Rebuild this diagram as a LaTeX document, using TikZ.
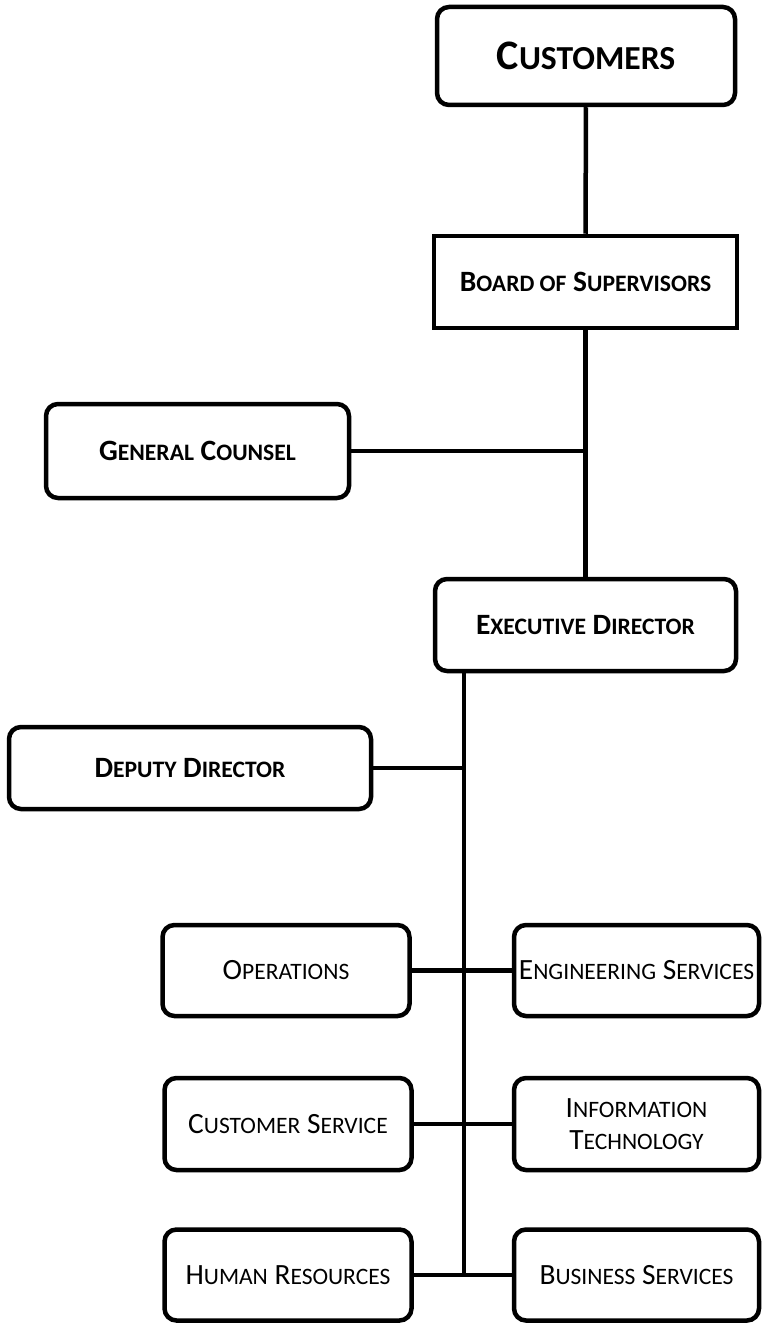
\documentclass[tikz,border=0pt]{standalone}
\usepackage{fontspec}
\setmainfont{Carlito}
\usetikzlibrary{calc}
\makeatletter
\newcommand{\capw}[2]{#1{\fontsize{\fpeval{0.8*\f@size}}{0}\selectfont #2}}
\makeatother

\begin{document}
\begin{tikzpicture}[x=1pt, y=-1pt, line width=4.5pt,
	box/.style = {draw, rounded corners=12pt, inner sep=0pt, align=center},
	head/.style = {box, font=\fontsize{29.5}{32}\selectfont\bfseries},
	unit/.style = {box, font=\fontsize{29.4}{32}\selectfont, minimum width=247pt, minimum height=91pt}]
	\useasboundingbox (0,0) rectangle (762,1324);
	% top of the chart
	\node[box, font=\fontsize{42}{46}\selectfont\bfseries, minimum width=298pt, minimum height=98pt] (cust) at (586,56) {\capw{C}{USTOMERS}};
	\node[head, sharp corners, minimum width=303pt, minimum height=92pt] (board) at (585.5,282) {\capw{B}{OARD OF} \capw{S}{UPERVISORS}};
	\node[head, minimum width=303pt, minimum height=94pt] (gc) at (197.5,451) {\capw{G}{ENERAL} \capw{C}{OUNSEL}};
	\node[head, minimum width=301pt, minimum height=92pt] (ed) at (585.5,625) {\capw{E}{XECUTIVE} \capw{D}{IRECTOR}};
	\node[head, minimum width=362pt, minimum height=82pt] (dd) at (190,768) {\capw{D}{EPUTY} \capw{D}{IRECTOR}};
	\draw (cust) -- (board);
	\draw (board) -- (ed);
	\draw (gc) -- (gc -| board.south);
	% departments
	\node[unit] (ops) at (286,970.5) {\capw{O}{PERATIONS}};
	\node[unit, minimum width=245pt] (eng) at (636.5,970.5) {\capw{E}{NGINEERING} \capw{S}{ERVICES}};
	\node[unit, minimum height=92pt] (cs) at (288,1124) {\capw{C}{USTOMER} \capw{S}{ERVICE}};
	\node[unit, minimum width=245pt, minimum height=92pt] (it) at (636.5,1124) {\capw{I}{NFORMATION}\\\capw{T}{ECHNOLOGY}};
	\node[unit] (hr) at (288,1275) {\capw{H}{UMAN} \capw{R}{ESOURCES}};
	\node[unit, minimum width=245pt] (bs) at (636.5,1275) {\capw{B}{USINESS} \capw{S}{ERVICES}};
	\coordinate (trunk) at (464,1275);
	\draw (ed.south -| trunk) -- (trunk);
	\draw (dd) -- (dd -| trunk);
	\draw (ops) -- (eng);
	\draw (cs) -- (it);
	\draw (hr) -- (bs);
\end{tikzpicture}
\end{document}
